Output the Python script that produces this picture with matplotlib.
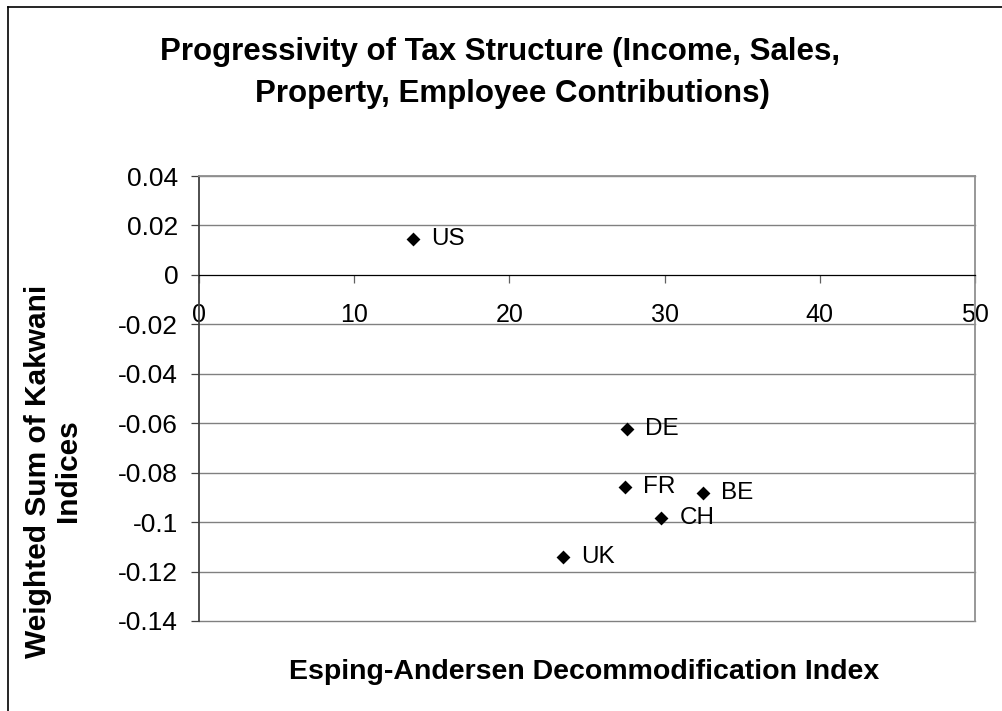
import matplotlib
matplotlib.use("Agg")
import matplotlib.pyplot as plt
from matplotlib.lines import Line2D

plt.rcParams['font.family'] = ['Liberation Sans', 'DejaVu Sans']

countries = ["US", "DE", "FR", "BE", "CH", "UK"]
decommodification = [13.8, 27.6, 27.45, 32.5, 29.8, 23.45]
kakwani_sum = [0.0145, -0.0623, -0.0858, -0.0882, -0.0983, -0.1141]
x_ticks = [0, 10, 20, 30, 40, 50]
y_ticks = [0.04, 0.02, 0, -0.02, -0.04, -0.06, -0.08, -0.1, -0.12, -0.14]
y_tick_labels = ["0.04", "0.02", "0", "-0.02", "-0.04", "-0.06", "-0.08", "-0.1", "-0.12", "-0.14"]

W, H = 1003, 711
fig = plt.figure(figsize=(W / 100, H / 100), dpi=100)
fig.patch.set_facecolor("white")

left, right, top, bottom = 199, 975, 176, 621
ax = fig.add_axes([left / W, 1 - bottom / H, (right - left) / W, (bottom - top) / H])

ax.set_xlim(0, 50)
ax.set_ylim(-0.14, 0.04)

# gridlines
for yv in y_ticks:
    if yv != 0:
        ax.axhline(yv, color="#808080", lw=1.0, zorder=1, clip_on=False)

ax.scatter(decommodification, kakwani_sum, marker="D", s=50, color="black", zorder=4, linewidths=0)
for c, xv, yv in zip(countries, decommodification, kakwani_sum):
    ax.annotate(c, (xv, yv), xytext=(13, 0), textcoords="offset points",
                va="center", ha="left", fontsize=17.5, color="black", zorder=5)

# spines
ax.spines["bottom"].set_position(("data", 0))
ax.spines["bottom"].set_color("black")
ax.spines["bottom"].set_linewidth(0.9)
ax.spines["left"].set_color("#404040")
ax.spines["left"].set_linewidth(1.3)
ax.spines["top"].set_color("#909090")
ax.spines["right"].set_color("#909090")
ax.spines["top"].set_linewidth(1.3)
ax.spines["right"].set_linewidth(1.3)

ax.set_xticks(x_ticks)
ax.set_xticklabels([str(v) for v in x_ticks])
ax.set_yticks(y_ticks)
ax.set_yticklabels(y_tick_labels)
ax.tick_params(axis="x", direction="out", length=6, width=0.9, color="#606060",
               labelsize=18, pad=14)
ax.tick_params(axis="y", direction="out", length=6, width=0.9, color="#404040",
               labelsize=19, pad=9)

# titles
fig.text(500 / W, 1 - 60 / H, "Progressivity of Tax Structure (Income, Sales,",
         ha="center", va="baseline", fontsize=22.5, fontweight="bold")
fig.text(512 / W, 1 - 102 / H, "Property, Employee Contributions)",
         ha="center", va="baseline", fontsize=22.5, fontweight="bold")

fig.text(584 / W, 1 - 679 / H, "Esping-Andersen Decommodification Index",
         ha="center", va="baseline", fontsize=20.5, fontweight="bold")
fig.text(53 / W, 1 - 471 / H, "Weighted Sum of Kakwani\nIndices",
         ha="center", va="center", rotation=90, fontsize=21.5, fontweight="bold",
         multialignment="center", linespacing=1.05)

# chart-area frame (left and top visible)
fig.add_artist(Line2D([8 / W, 8 / W], [0, 1 - 7 / H], transform=fig.transFigure,
                      color="black", lw=1.2))
fig.add_artist(Line2D([8 / W, 1], [1 - 7 / H, 1 - 7 / H], transform=fig.transFigure,
                      color="black", lw=1.2))

fig.savefig("out.png", dpi=100)
